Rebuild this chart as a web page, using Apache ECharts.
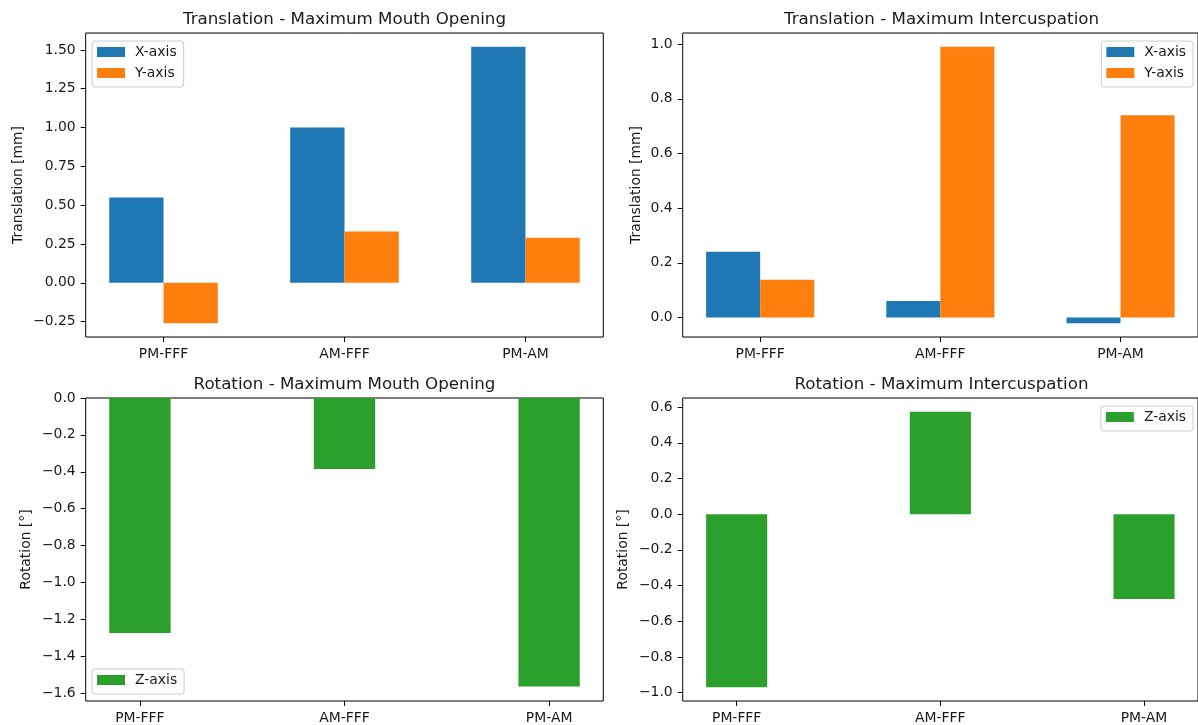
<!DOCTYPE html>
<html>
<head>
<meta charset="utf-8">
<script src="https://cdn.jsdelivr.net/npm/echarts@6/dist/echarts.min.js"></script>
<style>
  html, body { margin: 0; padding: 0; background: #fff; }
  #chart { width: 1198px; height: 725px; }
</style>
</head>
<body>
<div id="chart"></div>
<script>
// Comparisons between recording sessions
const categories = ['PM-FFF', 'AM-FFF', 'PM-AM'];

// Translation [mm], maximum mouth opening
const transOpenX = [0.55, 1.00, 1.52];
const transOpenY = [-0.26, 0.33, 0.29];
// Translation [mm], maximum intercuspation
const transInterX = [0.24, 0.06, -0.021];
const transInterY = [0.138, 0.99, 0.74];
// Rotation [°] about Z, maximum mouth opening
const rotOpenZ = [-1.275, -0.385, -1.565];
// Rotation [°] about Z, maximum intercuspation
const rotInterZ = [-0.97, 0.574, -0.475];

// Tick labels of the value axes
const ticksTransOpen = [-0.25, 0.00, 0.25, 0.50, 0.75, 1.00, 1.25, 1.50];
const ticksTransInter = [0.0, 0.2, 0.4, 0.6, 0.8, 1.0];
const ticksRotOpen = [-1.6, -1.4, -1.2, -1.0, -0.8, -0.6, -0.4, -0.2, 0.0];
const ticksRotInter = [-1.0, -0.8, -0.6, -0.4, -0.2, 0.0, 0.2, 0.4, 0.6];

const FONT = 'DejaVu Sans';
const TEXT = '#1a1a1a';
const C_X = '#1f77b4', C_Y = '#ff7f0e', C_Z = '#2ca02c';

// value-axis range: 5% margin around the data, bars anchored at zero
function padLimits(values) {
  const lo = Math.min(0, ...values), hi = Math.max(0, ...values);
  const m = 0.05 * (hi - lo);
  return [lo === 0 ? 0 : lo - m, hi === 0 ? 0 : hi + m];
}

function fmt(d) {
  return v => {
    const s = Math.abs(v) < 1e-9 ? (0).toFixed(d) : v.toFixed(d);
    return s.replace('-', '\u2212');
  };
}

const catIdx = categories.map((_, i) => i);
const xLimPair = [-0.43, 2.43];    // two bars per group
const xLimSingle = [-0.265, 2.265]; // one bar per group

const grids = [
  { left: 85.7, top: 33, width: 517.6, height: 304 },
  { left: 682.7, top: 33, width: 517.6, height: 304 },
  { left: 85.7, top: 398, width: 517.6, height: 305 },
  { left: 682.7, top: 398, width: 517.6, height: 305 }
].map(g => Object.assign(g, { show: true, borderColor: '#000', borderWidth: 1, backgroundColor: 'transparent' }));

const tickStyle = { length: 5, lineStyle: { color: '#000', width: 1 } };
const labelStyle = { fontFamily: FONT, fontSize: 13.9, color: TEXT };

function xAxisFor(gridIndex, lim) {
  return {
    type: 'value', gridIndex, min: lim[0], max: lim[1], position: 'bottom',
    splitLine: { show: false }, axisLine: { show: false, onZero: false },
    axisTick: Object.assign({ customValues: catIdx }, tickStyle),
    axisLabel: Object.assign({ customValues: catIdx, margin: 10,
      formatter: v => categories[Math.round(v)] }, labelStyle)
  };
}

function yAxisFor(gridIndex, lim, ticks, decimals, name, gap) {
  return {
    type: 'value', gridIndex, min: lim[0], max: lim[1], position: 'left',
    name, nameLocation: 'middle', nameRotate: 90, nameGap: gap,
    nameTextStyle: labelStyle,
    splitLine: { show: false }, axisLine: { show: false, onZero: false },
    axisTick: Object.assign({ customValues: ticks }, tickStyle),
    axisLabel: Object.assign({ customValues: ticks, margin: 10, formatter: fmt(decimals) }, labelStyle)
  };
}

function legendAt(pos, names) {
  return Object.assign({
    orient: 'vertical', data: names, icon: 'rect',
    itemWidth: 28, itemHeight: 10, itemGap: 7,
    padding: [4, 7, 7, 5],
    backgroundColor: 'rgba(255,255,255,0.8)', borderColor: '#cccccc', borderWidth: 1, borderRadius: 3,
    selectedMode: false,
    textStyle: { fontFamily: FONT, fontSize: 13.9, color: TEXT, padding: [0, 0, 0, 5] }
  }, pos);
}

function titleAt(text, cx, top) {
  return { text, left: cx, top, textAlign: 'center', padding: 0,
    textStyle: { fontFamily: FONT, fontSize: 16.7, fontWeight: 'normal', color: TEXT } };
}

function bars(name, values, color, idx) {
  return {
    type: 'bar', name, xAxisIndex: idx, yAxisIndex: idx,
    data: values.map((v, i) => [i, v]),
    barWidth: '30%', barGap: '0%',
    itemStyle: { color },
    emphasis: { disabled: true }
  };
}

const option = {
  animation: false,
  backgroundColor: '#fff',
  title: [
    titleAt('Translation - Maximum Mouth Opening', 344.5, 11),
    titleAt('Translation - Maximum Intercuspation', 941.5, 11),
    titleAt('Rotation - Maximum Mouth Opening', 344.5, 376),
    titleAt('Rotation - Maximum Intercuspation', 941.5, 376)
  ],
  legend: [
    legendAt({ left: 92, top: 41 }, ['X-axis', 'Y-axis']),
    legendAt({ right: 5, top: 41 }, ['X-axis', 'Y-axis']),
    legendAt({ left: 92, top: 669 }, ['Z-axis']),
    legendAt({ right: 5, top: 406 }, ['Z-axis'])
  ],
  grid: grids,
  xAxis: [
    xAxisFor(0, xLimPair), xAxisFor(1, xLimPair),
    xAxisFor(2, xLimSingle), xAxisFor(3, xLimSingle)
  ],
  yAxis: [
    yAxisFor(0, padLimits(transOpenX.concat(transOpenY)), ticksTransOpen, 2, 'Translation [mm]', 60),
    yAxisFor(1, padLimits(transInterX.concat(transInterY)), ticksTransInter, 1, 'Translation [mm]', 39),
    yAxisFor(2, padLimits(rotOpenZ), ticksRotOpen, 1, 'Rotation [°]', 52),
    yAxisFor(3, padLimits(rotInterZ), ticksRotInter, 1, 'Rotation [°]', 52)
  ],
  series: [
    bars('X-axis', transOpenX, C_X, 0),
    bars('Y-axis', transOpenY, C_Y, 0),
    bars('X-axis', transInterX, C_X, 1),
    bars('Y-axis', transInterY, C_Y, 1),
    bars('Z-axis', rotOpenZ, C_Z, 2),
    bars('Z-axis', rotInterZ, C_Z, 3)
  ]
};

const chart = echarts.init(document.getElementById('chart'), null, { renderer: 'canvas' });
chart.setOption(option);
</script>
</body>
</html>
